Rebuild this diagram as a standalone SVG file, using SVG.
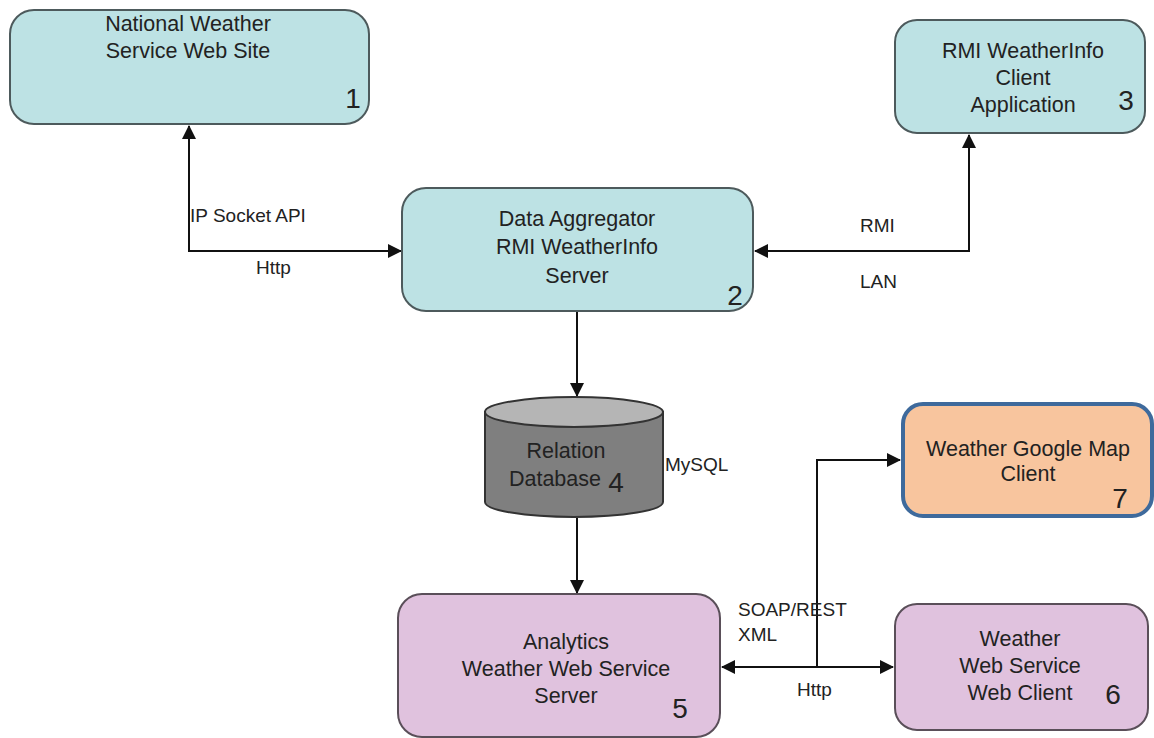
<svg xmlns="http://www.w3.org/2000/svg" width="1154" height="738" viewBox="0 0 1154 738">
<defs>
<style>
text{font-family:"Liberation Sans",Arial,sans-serif;fill:#222;}
.t{font-size:21.5px;text-anchor:middle;}
.n{font-size:28px;text-anchor:middle;}
.l{font-size:19px;}
.blue{fill:#bde2e4;stroke:#4d5a5c;stroke-width:2;}
.pink{fill:#e0c2de;stroke:#5a4f59;stroke-width:2;}
.orange{fill:#f8c59e;stroke:#3e6a9c;stroke-width:4;}
.c{fill:none;stroke:#111;stroke-width:2;}
</style>
<marker id="ah" markerWidth="14" markerHeight="14" refX="13" refY="7" orient="auto" markerUnits="userSpaceOnUse" viewBox="0 0 14 14">
<path d="M0,0 L14,7 L0,14 z" fill="#111"/>
</marker>
<marker id="ahs" markerWidth="14" markerHeight="14" refX="1" refY="7" orient="auto" markerUnits="userSpaceOnUse" viewBox="0 0 14 14">
<path d="M14,0 L0,7 L14,14 z" fill="#111"/>
</marker>
</defs>
<rect width="1154" height="738" fill="#fff"/>
<g id="connectors">
<path class="c" d="M189,126 V251 H401" marker-start="url(#ahs)" marker-end="url(#ah)"/>
<path class="c" d="M755,251 H969 V135" marker-start="url(#ahs)" marker-end="url(#ah)"/>
<path class="c" d="M577,312 V396" marker-end="url(#ah)"/>
<path class="c" d="M577,518 V593" marker-end="url(#ah)"/>
<path class="c" d="M722,667 H893" marker-start="url(#ahs)" marker-end="url(#ah)"/>
<path class="c" d="M817,667 V460 H900" marker-end="url(#ah)" stroke-width="1.5"/>
<text class="l" x="190" y="222">IP Socket API</text>
<text class="l" x="256" y="274">Http</text>
<text class="l" x="860" y="232">RMI</text>
<text class="l" x="860" y="288">LAN</text>
<text class="l" x="665" y="471">MySQL</text>
<text class="l" x="738" y="616">SOAP/REST</text>
<text class="l" x="738" y="641">XML</text>
<text class="l" x="797" y="696">Http</text>
</g>
<g id="node1">
<rect class="blue" x="10" y="10" width="359" height="114" rx="24"/>
<text class="t" x="188" y="31">National Weather</text>
<text class="t" x="188" y="58">Service Web Site</text>
<text class="n" x="353" y="108">1</text>
</g>
<g id="node2">
<rect class="blue" x="402" y="188" width="351" height="123" rx="24"/>
<text class="t" x="577" y="226">Data Aggregator</text>
<text class="t" x="577" y="254">RMI WeatherInfo</text>
<text class="t" x="577" y="283">Server</text>
<text class="n" x="735" y="305">2</text>
</g>
<g id="node3">
<rect class="blue" x="895" y="20" width="250" height="113" rx="22"/>
<text class="t" x="1023" y="58">RMI WeatherInfo</text>
<text class="t" x="1023" y="85">Client</text>
<text class="t" x="1023" y="112">Application</text>
<text class="n" x="1126" y="110">3</text>
</g>
<g id="node4">
<path d="M485,412 V502 A89,15 0 0 0 663,502 V412 Z" fill="#7f7f7f" stroke="#333" stroke-width="2"/>
<ellipse cx="574" cy="412" rx="89" ry="15" fill="#b5b5b5" stroke="#333" stroke-width="2"/>
<text class="t" x="566" y="458">Relation</text>
<text class="t" x="601" y="486" style="text-anchor:end">Database</text>
<text class="n" x="616" y="492">4</text>
</g>
<g id="node5">
<rect class="pink" x="398" y="594" width="322" height="143" rx="24"/>
<text class="t" x="566" y="649">Analytics</text>
<text class="t" x="566" y="676">Weather Web Service</text>
<text class="t" x="566" y="703">Server</text>
<text class="n" x="680" y="718">5</text>
</g>
<g id="node6">
<rect class="pink" x="895" y="604" width="253" height="126" rx="22"/>
<text class="t" x="1020" y="646">Weather</text>
<text class="t" x="1020" y="673">Web Service</text>
<text class="t" x="1020" y="700">Web Client</text>
<text class="n" x="1113" y="704">6</text>
</g>
<g id="node7">
<rect class="orange" x="903" y="404" width="249" height="112" rx="20"/>
<text class="t" x="1028" y="456">Weather Google Map</text>
<text class="t" x="1028" y="481">Client</text>
<text class="n" x="1120" y="508">7</text>
</g>
</svg>
